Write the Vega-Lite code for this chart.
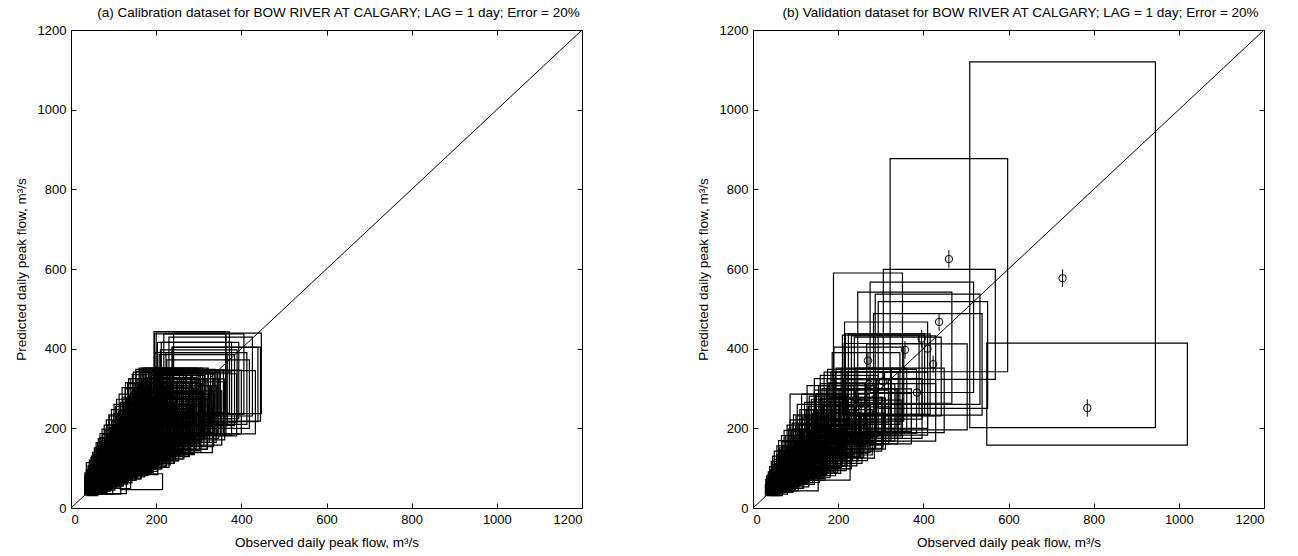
{
"$schema":"https://vega.github.io/schema/vega-lite/v6.json",
"background":"white",
"padding":{"left":13,"top":5,"right":5,"bottom":5},
"config":{"font":"Liberation Sans","view":{"stroke":"black","strokeWidth":1},
"axis":{"grid":false,"domain":false,"tickColor":"black","tickSize":-5,"tickWidth":1,"labelFontSize":13,"labelColor":"black","labelPadding":10,"titleFontSize":13.5,"titleFontWeight":"normal","titleColor":"black","titlePadding":9,"format":"d"},
"title":{"fontSize":13.5,"fontWeight":"normal","color":"black","anchor":"middle","frame":"group","offset":5,"dx":12}},
"spacing":110,
"datasets":{
"diag":[{"v":0},{"v":1200}],
"cal":[
{"o":45,"p":48,"x1":32,"x2":59,"y1":34,"y2":62},{"o":45,"p":60,"x1":32,"x2":59,"y1":42,"y2":78},{"o":46,"p":52,"x1":32,"x2":60,"y1":36,"y2":68},{"o":47,"p":68,"x1":33,"x2":61,"y1":48,"y2":88},{"o":48,"p":46,"x1":34,"x2":62,"y1":32,"y2":60},{"o":49,"p":56,"x1":34,"x2":64,"y1":39,"y2":73},{"o":50,"p":62,"x1":35,"x2":65,"y1":43,"y2":81},{"o":50,"p":50,"x1":35,"x2":65,"y1":35,"y2":65},{"o":51,"p":88,"x1":36,"x2":66,"y1":62,"y2":114},{"o":52,"p":58,"x1":36,"x2":68,"y1":41,"y2":75},{"o":53,"p":66,"x1":37,"x2":69,"y1":46,"y2":86},{"o":54,"p":50,"x1":38,"x2":70,"y1":35,"y2":65},{"o":55,"p":72,"x1":39,"x2":72,"y1":50,"y2":94},{"o":56,"p":60,"x1":39,"x2":73,"y1":42,"y2":78},{"o":57,"p":54,"x1":40,"x2":74,"y1":38,"y2":70},{"o":58,"p":80,"x1":41,"x2":75,"y1":56,"y2":104},{"o":59,"p":64,"x1":41,"x2":77,"y1":45,"y2":83},{"o":60,"p":58,"x1":42,"x2":78,"y1":41,"y2":75},{"o":61,"p":70,"x1":43,"x2":79,"y1":49,"y2":91},{"o":62,"p":92,"x1":43,"x2":81,"y1":64,"y2":120},{"o":63,"p":62,"x1":44,"x2":82,"y1":43,"y2":81},{"o":64,"p":76,"x1":45,"x2":83,"y1":53,"y2":99},{"o":65,"p":56,"x1":46,"x2":85,"y1":39,"y2":73},{"o":66,"p":68,"x1":46,"x2":86,"y1":48,"y2":88},{"o":67,"p":84,"x1":47,"x2":87,"y1":59,"y2":109},{"o":68,"p":64,"x1":48,"x2":88,"y1":45,"y2":83},{"o":69,"p":100,"x1":48,"x2":90,"y1":70,"y2":130},{"o":70,"p":72,"x1":49,"x2":91,"y1":50,"y2":94},
{"o":72,"p":80,"x1":50,"x2":94,"y1":56,"y2":104},{"o":73,"p":66,"x1":51,"x2":95,"y1":46,"y2":86},{"o":74,"p":104,"x1":52,"x2":96,"y1":73,"y2":135},{"o":75,"p":86,"x1":53,"x2":98,"y1":60,"y2":112},{"o":75,"p":50,"x1":53,"x2":98,"y1":35,"y2":65},{"o":76,"p":72,"x1":53,"x2":99,"y1":50,"y2":94},{"o":78,"p":92,"x1":55,"x2":101,"y1":64,"y2":120},{"o":79,"p":112,"x1":55,"x2":103,"y1":78,"y2":146},{"o":80,"p":78,"x1":56,"x2":104,"y1":55,"y2":101},{"o":81,"p":96,"x1":57,"x2":105,"y1":67,"y2":125},{"o":82,"p":70,"x1":57,"x2":107,"y1":49,"y2":91},{"o":84,"p":118,"x1":59,"x2":109,"y1":83,"y2":153},{"o":85,"p":88,"x1":60,"x2":111,"y1":62,"y2":114},{"o":86,"p":100,"x1":60,"x2":112,"y1":70,"y2":130},{"o":88,"p":82,"x1":62,"x2":114,"y1":57,"y2":107},{"o":89,"p":126,"x1":62,"x2":116,"y1":88,"y2":164},{"o":90,"p":94,"x1":63,"x2":117,"y1":66,"y2":122},{"o":90,"p":50,"x1":63,"x2":117,"y1":35,"y2":65},{"o":92,"p":108,"x1":64,"x2":120,"y1":76,"y2":140},{"o":93,"p":84,"x1":65,"x2":121,"y1":59,"y2":109},{"o":94,"p":120,"x1":66,"x2":122,"y1":84,"y2":156},{"o":96,"p":100,"x1":67,"x2":125,"y1":70,"y2":130},{"o":97,"p":136,"x1":68,"x2":126,"y1":95,"y2":177},{"o":98,"p":90,"x1":69,"x2":127,"y1":63,"y2":117},{"o":100,"p":112,"x1":70,"x2":130,"y1":78,"y2":146},{"o":100,"p":52,"x1":70,"x2":130,"y1":36,"y2":68},{"o":101,"p":104,"x1":71,"x2":131,"y1":73,"y2":135},{"o":102,"p":130,"x1":71,"x2":133,"y1":91,"y2":169},{"o":104,"p":96,"x1":73,"x2":135,"y1":67,"y2":125},{"o":105,"p":118,"x1":74,"x2":137,"y1":83,"y2":153},{"o":106,"p":142,"x1":74,"x2":138,"y1":99,"y2":185},{"o":108,"p":100,"x1":76,"x2":140,"y1":70,"y2":130},{"o":108,"p":70,"x1":76,"x2":140,"y1":49,"y2":91},{"o":110,"p":124,"x1":77,"x2":143,"y1":87,"y2":161},
{"o":112,"p":110,"x1":78,"x2":146,"y1":77,"y2":143},{"o":114,"p":150,"x1":80,"x2":148,"y1":105,"y2":195},{"o":115,"p":98,"x1":81,"x2":150,"y1":69,"y2":127},{"o":116,"p":128,"x1":81,"x2":151,"y1":90,"y2":166},{"o":118,"p":140,"x1":83,"x2":153,"y1":98,"y2":182},{"o":120,"p":112,"x1":84,"x2":156,"y1":78,"y2":146},{"o":122,"p":160,"x1":85,"x2":159,"y1":112,"y2":208},{"o":124,"p":118,"x1":87,"x2":161,"y1":83,"y2":153},{"o":125,"p":136,"x1":88,"x2":163,"y1":95,"y2":177},{"o":127,"p":104,"x1":89,"x2":165,"y1":73,"y2":135},{"o":128,"p":178,"x1":90,"x2":166,"y1":125,"y2":231},{"o":130,"p":142,"x1":91,"x2":169,"y1":99,"y2":185},{"o":132,"p":122,"x1":92,"x2":172,"y1":85,"y2":159},{"o":134,"p":156,"x1":94,"x2":174,"y1":109,"y2":203},{"o":135,"p":130,"x1":95,"x2":176,"y1":91,"y2":169},{"o":137,"p":168,"x1":96,"x2":178,"y1":118,"y2":218},{"o":138,"p":116,"x1":97,"x2":179,"y1":81,"y2":151},{"o":140,"p":148,"x1":98,"x2":182,"y1":104,"y2":192},{"o":142,"p":134,"x1":99,"x2":185,"y1":94,"y2":174},{"o":143,"p":182,"x1":100,"x2":186,"y1":127,"y2":237},{"o":145,"p":126,"x1":102,"x2":189,"y1":88,"y2":164},{"o":147,"p":160,"x1":103,"x2":191,"y1":112,"y2":208},{"o":148,"p":144,"x1":104,"x2":192,"y1":101,"y2":187},{"o":150,"p":196,"x1":105,"x2":195,"y1":137,"y2":255},{"o":152,"p":138,"x1":106,"x2":198,"y1":97,"y2":179},{"o":153,"p":170,"x1":107,"x2":199,"y1":119,"y2":221},{"o":155,"p":150,"x1":109,"x2":202,"y1":105,"y2":195},{"o":157,"p":120,"x1":110,"x2":204,"y1":84,"y2":156},{"o":158,"p":186,"x1":111,"x2":205,"y1":130,"y2":242},{"o":160,"p":156,"x1":112,"x2":208,"y1":109,"y2":203},
{"o":162,"p":168,"x1":113,"x2":211,"y1":118,"y2":218},{"o":164,"p":140,"x1":115,"x2":213,"y1":98,"y2":182},{"o":165,"p":66,"x1":116,"x2":215,"y1":46,"y2":86},{"o":166,"p":204,"x1":116,"x2":216,"y1":143,"y2":265},{"o":168,"p":160,"x1":118,"x2":218,"y1":112,"y2":208},{"o":170,"p":180,"x1":119,"x2":221,"y1":126,"y2":234},{"o":172,"p":150,"x1":120,"x2":224,"y1":105,"y2":195},{"o":174,"p":214,"x1":122,"x2":226,"y1":150,"y2":278},{"o":175,"p":172,"x1":123,"x2":228,"y1":120,"y2":224},{"o":177,"p":146,"x1":124,"x2":230,"y1":102,"y2":190},{"o":178,"p":196,"x1":125,"x2":231,"y1":137,"y2":255},{"o":180,"p":166,"x1":126,"x2":234,"y1":116,"y2":216},{"o":182,"p":230,"x1":127,"x2":237,"y1":161,"y2":299},{"o":184,"p":188,"x1":129,"x2":239,"y1":132,"y2":244},{"o":185,"p":160,"x1":130,"x2":241,"y1":112,"y2":208},{"o":187,"p":206,"x1":131,"x2":243,"y1":144,"y2":268},{"o":189,"p":176,"x1":132,"x2":246,"y1":123,"y2":229},{"o":190,"p":240,"x1":133,"x2":247,"y1":168,"y2":312},{"o":192,"p":196,"x1":134,"x2":250,"y1":137,"y2":255},{"o":194,"p":170,"x1":136,"x2":252,"y1":119,"y2":221},{"o":195,"p":218,"x1":137,"x2":254,"y1":153,"y2":283},{"o":197,"p":186,"x1":138,"x2":256,"y1":130,"y2":242},{"o":199,"p":250,"x1":139,"x2":259,"y1":175,"y2":325},{"o":200,"p":200,"x1":140,"x2":260,"y1":140,"y2":260},{"o":202,"p":176,"x1":141,"x2":263,"y1":123,"y2":229},{"o":204,"p":226,"x1":143,"x2":265,"y1":158,"y2":294},{"o":206,"p":190,"x1":144,"x2":268,"y1":133,"y2":247},{"o":208,"p":262,"x1":146,"x2":270,"y1":183,"y2":341},{"o":210,"p":210,"x1":147,"x2":273,"y1":147,"y2":273},{"o":212,"p":186,"x1":148,"x2":276,"y1":130,"y2":242},{"o":214,"p":240,"x1":150,"x2":278,"y1":168,"y2":312},{"o":216,"p":200,"x1":151,"x2":281,"y1":140,"y2":260},{"o":217,"p":268,"x1":152,"x2":282,"y1":188,"y2":348},{"o":219,"p":222,"x1":153,"x2":285,"y1":155,"y2":289},
{"o":222,"p":196,"x1":155,"x2":289,"y1":137,"y2":255},{"o":224,"p":250,"x1":157,"x2":291,"y1":175,"y2":325},{"o":226,"p":210,"x1":158,"x2":294,"y1":147,"y2":273},{"o":228,"p":270,"x1":160,"x2":296,"y1":189,"y2":351},{"o":230,"p":230,"x1":161,"x2":299,"y1":161,"y2":299},{"o":232,"p":206,"x1":162,"x2":302,"y1":144,"y2":268},{"o":234,"p":262,"x1":164,"x2":304,"y1":183,"y2":341},{"o":236,"p":240,"x1":165,"x2":307,"y1":168,"y2":312},{"o":238,"p":270,"x1":167,"x2":309,"y1":189,"y2":351},{"o":240,"p":222,"x1":168,"x2":312,"y1":155,"y2":289},{"o":242,"p":264,"x1":169,"x2":315,"y1":185,"y2":343},{"o":244,"p":248,"x1":171,"x2":317,"y1":174,"y2":322},{"o":246,"p":212,"x1":172,"x2":320,"y1":148,"y2":276},{"o":248,"p":270,"x1":174,"x2":322,"y1":189,"y2":351},{"o":250,"p":236,"x1":175,"x2":325,"y1":165,"y2":307},{"o":252,"p":262,"x1":176,"x2":328,"y1":183,"y2":341},{"o":255,"p":199,"x1":179,"x2":332,"y1":139,"y2":259},{"o":257,"p":250,"x1":180,"x2":334,"y1":175,"y2":325},{"o":260,"p":268,"x1":182,"x2":338,"y1":188,"y2":348},{"o":262,"p":236,"x1":183,"x2":341,"y1":165,"y2":307},{"o":264,"p":266,"x1":185,"x2":343,"y1":186,"y2":346},{"o":267,"p":250,"x1":187,"x2":347,"y1":175,"y2":325},{"o":270,"p":262,"x1":189,"x2":351,"y1":183,"y2":341},{"o":272,"p":226,"x1":190,"x2":354,"y1":158,"y2":294},{"o":275,"p":266,"x1":193,"x2":358,"y1":186,"y2":346},{"o":278,"p":244,"x1":195,"x2":361,"y1":171,"y2":317},{"o":279,"p":341,"x1":195,"x2":363,"y1":239,"y2":443},{"o":280,"p":266,"x1":196,"x2":364,"y1":186,"y2":346},
{"o":282,"p":300,"x1":197,"x2":367,"y1":210,"y2":390},{"o":286,"p":340,"x1":200,"x2":372,"y1":238,"y2":442},{"o":290,"p":262,"x1":203,"x2":377,"y1":183,"y2":341},{"o":295,"p":296,"x1":207,"x2":384,"y1":207,"y2":385},{"o":299,"p":259,"x1":209,"x2":389,"y1":181,"y2":337},{"o":303,"p":320,"x1":212,"x2":394,"y1":224,"y2":416},{"o":308,"p":266,"x1":216,"x2":400,"y1":186,"y2":346},{"o":312,"p":336,"x1":218,"x2":406,"y1":235,"y2":437},{"o":318,"p":300,"x1":223,"x2":413,"y1":210,"y2":390},{"o":322,"p":286,"x1":225,"x2":419,"y1":200,"y2":372},{"o":328,"p":330,"x1":230,"x2":426,"y1":231,"y2":429},{"o":333,"p":265,"x1":233,"x2":433,"y1":186,"y2":345},{"o":338,"p":310,"x1":237,"x2":439,"y1":217,"y2":403},{"o":342,"p":311,"x1":239,"x2":445,"y1":218,"y2":404},{"o":344,"p":338,"x1":241,"x2":447,"y1":237,"y2":439},{"o":280,"p":336,"x1":196,"x2":364,"y1":235,"y2":437},{"o":290,"p":320,"x1":203,"x2":377,"y1":224,"y2":416},{"o":300,"p":305,"x1":210,"x2":390,"y1":214,"y2":397},
{"o":44,"p":54,"x1":35,"x2":53,"y1":43,"y2":65},{"o":47,"p":60,"x1":38,"x2":56,"y1":48,"y2":72},{"o":50,"p":70,"x1":40,"x2":60,"y1":56,"y2":84},{"o":52,"p":48,"x1":42,"x2":62,"y1":38,"y2":58},{"o":55,"p":66,"x1":44,"x2":66,"y1":53,"y2":79},{"o":57,"p":78,"x1":46,"x2":68,"y1":62,"y2":94},{"o":60,"p":90,"x1":48,"x2":72,"y1":72,"y2":108},{"o":62,"p":60,"x1":50,"x2":74,"y1":48,"y2":72},{"o":65,"p":80,"x1":52,"x2":78,"y1":64,"y2":96},{"o":67,"p":104,"x1":54,"x2":80,"y1":83,"y2":125},{"o":70,"p":66,"x1":56,"x2":84,"y1":53,"y2":79},{"o":72,"p":90,"x1":58,"x2":86,"y1":72,"y2":108},{"o":75,"p":112,"x1":60,"x2":90,"y1":90,"y2":134},{"o":77,"p":76,"x1":62,"x2":92,"y1":61,"y2":91},{"o":80,"p":100,"x1":64,"x2":96,"y1":80,"y2":120},{"o":82,"p":124,"x1":66,"x2":98,"y1":99,"y2":149},{"o":85,"p":84,"x1":68,"x2":102,"y1":67,"y2":101},{"o":87,"p":108,"x1":70,"x2":104,"y1":86,"y2":130},{"o":90,"p":136,"x1":72,"x2":108,"y1":109,"y2":163},{"o":92,"p":92,"x1":74,"x2":110,"y1":74,"y2":110},{"o":95,"p":118,"x1":76,"x2":114,"y1":94,"y2":142},{"o":97,"p":146,"x1":78,"x2":116,"y1":117,"y2":175},{"o":100,"p":100,"x1":80,"x2":120,"y1":80,"y2":120},{"o":103,"p":128,"x1":82,"x2":124,"y1":102,"y2":154},{"o":106,"p":156,"x1":85,"x2":127,"y1":125,"y2":187},{"o":109,"p":108,"x1":87,"x2":131,"y1":86,"y2":130},{"o":112,"p":138,"x1":90,"x2":134,"y1":110,"y2":166},{"o":115,"p":168,"x1":92,"x2":138,"y1":134,"y2":202},{"o":118,"p":118,"x1":94,"x2":142,"y1":94,"y2":142},{"o":121,"p":148,"x1":97,"x2":145,"y1":118,"y2":178},{"o":124,"p":180,"x1":99,"x2":149,"y1":144,"y2":216},{"o":127,"p":126,"x1":102,"x2":152,"y1":101,"y2":151},{"o":130,"p":158,"x1":104,"x2":156,"y1":126,"y2":190},{"o":134,"p":192,"x1":107,"x2":161,"y1":154,"y2":230},{"o":137,"p":136,"x1":110,"x2":164,"y1":109,"y2":163},{"o":140,"p":168,"x1":112,"x2":168,"y1":134,"y2":202},{"o":144,"p":204,"x1":115,"x2":173,"y1":163,"y2":245},{"o":147,"p":146,"x1":118,"x2":176,"y1":117,"y2":175},{"o":150,"p":180,"x1":120,"x2":180,"y1":144,"y2":216},{"o":154,"p":218,"x1":123,"x2":185,"y1":174,"y2":262},{"o":157,"p":156,"x1":126,"x2":188,"y1":125,"y2":187},{"o":160,"p":190,"x1":128,"x2":192,"y1":152,"y2":228},{"o":164,"p":230,"x1":131,"x2":197,"y1":184,"y2":276},{"o":167,"p":166,"x1":134,"x2":200,"y1":133,"y2":199},{"o":170,"p":200,"x1":136,"x2":204,"y1":160,"y2":240},{"o":174,"p":240,"x1":139,"x2":209,"y1":192,"y2":288},{"o":177,"p":176,"x1":142,"x2":212,"y1":141,"y2":211},{"o":180,"p":210,"x1":144,"x2":216,"y1":168,"y2":252},{"o":185,"p":250,"x1":148,"x2":222,"y1":200,"y2":300},{"o":188,"p":186,"x1":150,"x2":226,"y1":149,"y2":223},{"o":192,"p":222,"x1":154,"x2":230,"y1":178,"y2":266},{"o":196,"p":260,"x1":157,"x2":235,"y1":208,"y2":312},{"o":200,"p":196,"x1":160,"x2":240,"y1":157,"y2":235},{"o":204,"p":232,"x1":163,"x2":245,"y1":186,"y2":278},{"o":208,"p":270,"x1":166,"x2":250,"y1":216,"y2":324},{"o":212,"p":206,"x1":170,"x2":254,"y1":165,"y2":247},{"o":216,"p":242,"x1":173,"x2":259,"y1":194,"y2":290},{"o":220,"p":280,"x1":176,"x2":264,"y1":224,"y2":336},{"o":225,"p":216,"x1":180,"x2":270,"y1":173,"y2":259},{"o":230,"p":252,"x1":184,"x2":276,"y1":202,"y2":302},{"o":235,"p":285,"x1":188,"x2":282,"y1":228,"y2":342},{"o":240,"p":230,"x1":192,"x2":288,"y1":184,"y2":276},{"o":245,"p":262,"x1":196,"x2":294,"y1":210,"y2":314},{"o":250,"p":288,"x1":200,"x2":300,"y1":230,"y2":346},{"o":256,"p":244,"x1":205,"x2":307,"y1":195,"y2":293},{"o":262,"p":270,"x1":210,"x2":314,"y1":216,"y2":324},{"o":268,"p":288,"x1":214,"x2":322,"y1":230,"y2":346},{"o":275,"p":256,"x1":220,"x2":330,"y1":205,"y2":307},{"o":282,"p":280,"x1":226,"x2":338,"y1":224,"y2":336},{"o":290,"p":288,"x1":232,"x2":348,"y1":230,"y2":346},{"o":300,"p":270,"x1":240,"x2":360,"y1":216,"y2":324},
{"o":60,"p":45,"x1":48,"x2":72,"y1":36,"y2":54},{"o":70,"p":54,"x1":56,"x2":84,"y1":43,"y2":65},{"o":80,"p":57,"x1":64,"x2":96,"y1":46,"y2":68},{"o":90,"p":66,"x1":72,"x2":108,"y1":53,"y2":79},{"o":100,"p":71,"x1":80,"x2":120,"y1":57,"y2":85},{"o":110,"p":82,"x1":88,"x2":132,"y1":66,"y2":98},{"o":120,"p":86,"x1":96,"x2":144,"y1":69,"y2":103},{"o":130,"p":98,"x1":104,"x2":156,"y1":78,"y2":118},{"o":140,"p":102,"x1":112,"x2":168,"y1":82,"y2":122},{"o":150,"p":114,"x1":120,"x2":180,"y1":91,"y2":137},{"o":160,"p":118,"x1":128,"x2":192,"y1":94,"y2":142},{"o":170,"p":132,"x1":136,"x2":204,"y1":106,"y2":158},{"o":180,"p":138,"x1":144,"x2":216,"y1":110,"y2":166},{"o":190,"p":152,"x1":152,"x2":228,"y1":122,"y2":182},{"o":200,"p":157,"x1":160,"x2":240,"y1":126,"y2":188},{"o":210,"p":172,"x1":168,"x2":252,"y1":138,"y2":206},{"o":220,"p":176,"x1":176,"x2":264,"y1":141,"y2":211},{"o":230,"p":193,"x1":184,"x2":276,"y1":154,"y2":232},{"o":240,"p":198,"x1":192,"x2":288,"y1":158,"y2":238},{"o":250,"p":213,"x1":200,"x2":300,"y1":170,"y2":256},{"o":260,"p":217,"x1":208,"x2":312,"y1":174,"y2":260},{"o":270,"p":233,"x1":216,"x2":324,"y1":186,"y2":280},{"o":280,"p":238,"x1":224,"x2":336,"y1":190,"y2":286},
{"o":42,"p":52,"x1":32,"x2":53,"y1":36,"y2":68},{"o":44,"p":66,"x1":33,"x2":55,"y1":46,"y2":86},{"o":46,"p":58,"x1":35,"x2":58,"y1":41,"y2":75},{"o":48,"p":74,"x1":36,"x2":60,"y1":52,"y2":96},{"o":51,"p":62,"x1":38,"x2":64,"y1":43,"y2":81},{"o":53,"p":82,"x1":40,"x2":66,"y1":57,"y2":107},{"o":56,"p":70,"x1":42,"x2":70,"y1":49,"y2":91},{"o":58,"p":90,"x1":44,"x2":73,"y1":63,"y2":117},{"o":61,"p":76,"x1":46,"x2":76,"y1":53,"y2":99},{"o":63,"p":98,"x1":47,"x2":79,"y1":69,"y2":127},{"o":66,"p":84,"x1":50,"x2":83,"y1":59,"y2":109},{"o":68,"p":108,"x1":51,"x2":85,"y1":76,"y2":140},{"o":71,"p":90,"x1":53,"x2":89,"y1":63,"y2":117},{"o":73,"p":116,"x1":55,"x2":91,"y1":81,"y2":151},{"o":76,"p":98,"x1":57,"x2":95,"y1":69,"y2":127},{"o":79,"p":126,"x1":59,"x2":99,"y1":88,"y2":164},{"o":82,"p":104,"x1":62,"x2":103,"y1":73,"y2":135},{"o":85,"p":134,"x1":64,"x2":106,"y1":94,"y2":174},{"o":88,"p":110,"x1":66,"x2":110,"y1":77,"y2":143},{"o":91,"p":144,"x1":68,"x2":114,"y1":101,"y2":187},{"o":94,"p":118,"x1":71,"x2":118,"y1":83,"y2":153},{"o":97,"p":152,"x1":73,"x2":121,"y1":106,"y2":198},{"o":100,"p":126,"x1":75,"x2":125,"y1":88,"y2":164},{"o":104,"p":160,"x1":78,"x2":130,"y1":112,"y2":208},{"o":107,"p":134,"x1":80,"x2":134,"y1":94,"y2":174},{"o":111,"p":170,"x1":83,"x2":139,"y1":119,"y2":221},{"o":114,"p":142,"x1":86,"x2":143,"y1":99,"y2":185},{"o":118,"p":180,"x1":89,"x2":148,"y1":126,"y2":234},{"o":122,"p":150,"x1":92,"x2":153,"y1":105,"y2":195},{"o":126,"p":190,"x1":95,"x2":158,"y1":133,"y2":247},{"o":130,"p":160,"x1":98,"x2":163,"y1":112,"y2":208},{"o":134,"p":200,"x1":101,"x2":168,"y1":140,"y2":260},{"o":138,"p":170,"x1":104,"x2":173,"y1":119,"y2":221},{"o":142,"p":210,"x1":107,"x2":178,"y1":147,"y2":273},{"o":146,"p":178,"x1":110,"x2":183,"y1":125,"y2":231},{"o":151,"p":220,"x1":113,"x2":189,"y1":154,"y2":286},{"o":155,"p":188,"x1":116,"x2":194,"y1":132,"y2":244},{"o":160,"p":232,"x1":120,"x2":200,"y1":162,"y2":302},{"o":165,"p":196,"x1":124,"x2":206,"y1":137,"y2":255},{"o":170,"p":242,"x1":128,"x2":213,"y1":169,"y2":315},{"o":175,"p":206,"x1":131,"x2":219,"y1":144,"y2":268},{"o":180,"p":250,"x1":135,"x2":225,"y1":175,"y2":325},{"o":186,"p":216,"x1":140,"x2":233,"y1":151,"y2":281},{"o":192,"p":258,"x1":144,"x2":240,"y1":181,"y2":335},{"o":198,"p":226,"x1":149,"x2":248,"y1":158,"y2":294},{"o":204,"p":264,"x1":153,"x2":255,"y1":185,"y2":343},{"o":210,"p":236,"x1":158,"x2":263,"y1":165,"y2":307},{"o":216,"p":266,"x1":162,"x2":270,"y1":186,"y2":346},{"o":222,"p":244,"x1":167,"x2":278,"y1":171,"y2":317},{"o":228,"p":266,"x1":171,"x2":285,"y1":186,"y2":346},{"o":235,"p":252,"x1":176,"x2":294,"y1":176,"y2":328},{"o":242,"p":266,"x1":182,"x2":303,"y1":186,"y2":346},{"o":250,"p":256,"x1":188,"x2":313,"y1":179,"y2":333},{"o":258,"p":266,"x1":194,"x2":323,"y1":186,"y2":346},{"o":266,"p":260,"x1":200,"x2":333,"y1":182,"y2":338},{"o":275,"p":266,"x1":206,"x2":344,"y1":186,"y2":346},
{"o":50,"p":44,"x1":38,"x2":63,"y1":31,"y2":57},{"o":58,"p":48,"x1":44,"x2":73,"y1":34,"y2":62},{"o":66,"p":54,"x1":50,"x2":83,"y1":38,"y2":70},{"o":74,"p":60,"x1":56,"x2":93,"y1":42,"y2":78},{"o":82,"p":64,"x1":62,"x2":103,"y1":45,"y2":83},{"o":90,"p":72,"x1":68,"x2":113,"y1":50,"y2":94},{"o":98,"p":78,"x1":74,"x2":123,"y1":55,"y2":101},{"o":106,"p":86,"x1":80,"x2":133,"y1":60,"y2":112},{"o":114,"p":90,"x1":86,"x2":143,"y1":63,"y2":117},{"o":122,"p":98,"x1":92,"x2":153,"y1":69,"y2":127},{"o":130,"p":104,"x1":98,"x2":163,"y1":73,"y2":135},{"o":138,"p":112,"x1":104,"x2":173,"y1":78,"y2":146},{"o":146,"p":118,"x1":110,"x2":183,"y1":83,"y2":153},{"o":154,"p":126,"x1":116,"x2":193,"y1":88,"y2":164},{"o":162,"p":132,"x1":122,"x2":203,"y1":92,"y2":172},{"o":170,"p":140,"x1":128,"x2":213,"y1":98,"y2":182},{"o":178,"p":146,"x1":134,"x2":223,"y1":102,"y2":190},{"o":186,"p":154,"x1":140,"x2":233,"y1":108,"y2":200},{"o":194,"p":160,"x1":146,"x2":243,"y1":112,"y2":208},{"o":202,"p":168,"x1":152,"x2":253,"y1":118,"y2":218},{"o":212,"p":176,"x1":159,"x2":265,"y1":123,"y2":229},{"o":222,"p":184,"x1":167,"x2":278,"y1":129,"y2":239},{"o":232,"p":192,"x1":174,"x2":290,"y1":134,"y2":250},{"o":244,"p":200,"x1":183,"x2":305,"y1":140,"y2":260},{"o":256,"p":210,"x1":192,"x2":320,"y1":147,"y2":273},{"o":268,"p":220,"x1":201,"x2":335,"y1":154,"y2":286},
{"o":60,"p":62,"x1":45,"x2":75,"y1":43,"y2":81},{"o":70,"p":72,"x1":53,"x2":88,"y1":50,"y2":94},{"o":80,"p":82,"x1":60,"x2":100,"y1":57,"y2":107},{"o":90,"p":92,"x1":68,"x2":113,"y1":64,"y2":120},{"o":100,"p":102,"x1":75,"x2":125,"y1":71,"y2":133},{"o":110,"p":112,"x1":83,"x2":138,"y1":78,"y2":146},{"o":120,"p":122,"x1":90,"x2":150,"y1":85,"y2":159},{"o":130,"p":132,"x1":98,"x2":163,"y1":92,"y2":172},{"o":140,"p":142,"x1":105,"x2":175,"y1":99,"y2":185},{"o":150,"p":152,"x1":113,"x2":188,"y1":106,"y2":198},{"o":160,"p":162,"x1":120,"x2":200,"y1":113,"y2":211},{"o":170,"p":172,"x1":128,"x2":213,"y1":120,"y2":224},{"o":180,"p":182,"x1":135,"x2":225,"y1":127,"y2":237},{"o":190,"p":192,"x1":143,"x2":238,"y1":134,"y2":250},{"o":200,"p":202,"x1":150,"x2":250,"y1":141,"y2":263},{"o":210,"p":212,"x1":158,"x2":263,"y1":148,"y2":276},{"o":220,"p":222,"x1":165,"x2":275,"y1":155,"y2":289},{"o":230,"p":232,"x1":173,"x2":288,"y1":162,"y2":302},{"o":240,"p":242,"x1":180,"x2":300,"y1":169,"y2":315},{"o":250,"p":248,"x1":188,"x2":313,"y1":174,"y2":322}
],
"val":[
{"o":42,"p":45,"x1":29,"x2":55,"y1":32,"y2":59},{"o":43,"p":55,"x1":30,"x2":56,"y1":39,"y2":72},{"o":45,"p":50,"x1":32,"x2":59,"y1":35,"y2":65},{"o":46,"p":62,"x1":32,"x2":60,"y1":43,"y2":81},{"o":48,"p":44,"x1":34,"x2":62,"y1":31,"y2":57},{"o":50,"p":58,"x1":35,"x2":65,"y1":41,"y2":75},{"o":51,"p":70,"x1":36,"x2":66,"y1":49,"y2":91},{"o":53,"p":52,"x1":37,"x2":69,"y1":36,"y2":68},{"o":55,"p":64,"x1":39,"x2":72,"y1":45,"y2":83},{"o":56,"p":80,"x1":39,"x2":73,"y1":56,"y2":104},{"o":58,"p":56,"x1":41,"x2":75,"y1":39,"y2":73},{"o":60,"p":68,"x1":42,"x2":78,"y1":48,"y2":88},{"o":62,"p":90,"x1":43,"x2":81,"y1":63,"y2":117},{"o":63,"p":60,"x1":44,"x2":82,"y1":42,"y2":78},{"o":65,"p":74,"x1":46,"x2":85,"y1":52,"y2":96},{"o":66,"p":100,"x1":46,"x2":86,"y1":70,"y2":130},{"o":68,"p":64,"x1":48,"x2":88,"y1":45,"y2":83},{"o":70,"p":80,"x1":49,"x2":91,"y1":56,"y2":104},{"o":72,"p":110,"x1":50,"x2":94,"y1":77,"y2":143},{"o":73,"p":70,"x1":51,"x2":95,"y1":49,"y2":91},{"o":75,"p":86,"x1":53,"x2":98,"y1":60,"y2":112},{"o":77,"p":66,"x1":54,"x2":100,"y1":46,"y2":86},{"o":78,"p":96,"x1":55,"x2":101,"y1":67,"y2":125},{"o":80,"p":120,"x1":56,"x2":104,"y1":84,"y2":156},{"o":82,"p":76,"x1":57,"x2":107,"y1":53,"y2":99},{"o":84,"p":92,"x1":59,"x2":109,"y1":64,"y2":120},{"o":86,"p":130,"x1":60,"x2":112,"y1":91,"y2":169},{"o":87,"p":82,"x1":61,"x2":113,"y1":57,"y2":107},{"o":89,"p":100,"x1":62,"x2":116,"y1":70,"y2":130},{"o":90,"p":70,"x1":63,"x2":117,"y1":49,"y2":91},{"o":92,"p":112,"x1":64,"x2":120,"y1":78,"y2":146},{"o":94,"p":90,"x1":66,"x2":122,"y1":63,"y2":117},{"o":95,"p":140,"x1":67,"x2":124,"y1":98,"y2":182},{"o":97,"p":104,"x1":68,"x2":126,"y1":73,"y2":135},{"o":99,"p":84,"x1":69,"x2":129,"y1":59,"y2":109},{"o":100,"p":120,"x1":70,"x2":130,"y1":84,"y2":156},{"o":102,"p":96,"x1":71,"x2":133,"y1":67,"y2":125},{"o":104,"p":150,"x1":73,"x2":135,"y1":105,"y2":195},{"o":106,"p":110,"x1":74,"x2":138,"y1":77,"y2":143},{"o":108,"p":90,"x1":76,"x2":140,"y1":63,"y2":117},{"o":110,"p":128,"x1":77,"x2":143,"y1":90,"y2":166},{"o":112,"p":104,"x1":78,"x2":146,"y1":73,"y2":135},{"o":114,"p":160,"x1":80,"x2":148,"y1":112,"y2":208},{"o":116,"p":120,"x1":81,"x2":151,"y1":84,"y2":156},{"o":118,"p":98,"x1":83,"x2":153,"y1":69,"y2":127},{"o":118,"p":62,"x1":83,"x2":153,"y1":43,"y2":81},{"o":120,"p":140,"x1":84,"x2":156,"y1":98,"y2":182},{"o":122,"p":112,"x1":85,"x2":159,"y1":78,"y2":146},{"o":124,"p":170,"x1":87,"x2":161,"y1":119,"y2":221},{"o":124,"p":220,"x1":87,"x2":161,"y1":154,"y2":286},{"o":126,"p":130,"x1":88,"x2":164,"y1":91,"y2":169},{"o":128,"p":106,"x1":90,"x2":166,"y1":74,"y2":138},{"o":130,"p":150,"x1":91,"x2":169,"y1":105,"y2":195},{"o":133,"p":120,"x1":93,"x2":173,"y1":84,"y2":156},{"o":136,"p":180,"x1":95,"x2":177,"y1":126,"y2":234},{"o":138,"p":140,"x1":97,"x2":179,"y1":98,"y2":182},{"o":140,"p":116,"x1":98,"x2":182,"y1":81,"y2":151},{"o":143,"p":160,"x1":100,"x2":186,"y1":112,"y2":208},{"o":146,"p":130,"x1":102,"x2":190,"y1":91,"y2":169},{"o":148,"p":200,"x1":104,"x2":192,"y1":140,"y2":260},{"o":150,"p":150,"x1":105,"x2":195,"y1":105,"y2":195},{"o":153,"p":126,"x1":107,"x2":199,"y1":88,"y2":164},{"o":156,"p":172,"x1":109,"x2":203,"y1":120,"y2":224},{"o":160,"p":146,"x1":112,"x2":208,"y1":102,"y2":190},{"o":163,"p":220,"x1":114,"x2":212,"y1":154,"y2":286},{"o":166,"p":170,"x1":116,"x2":216,"y1":119,"y2":221},{"o":170,"p":150,"x1":119,"x2":221,"y1":105,"y2":195},{"o":174,"p":190,"x1":122,"x2":226,"y1":133,"y2":247},{"o":175,"p":100,"x1":123,"x2":228,"y1":70,"y2":130},{"o":178,"p":160,"x1":125,"x2":231,"y1":112,"y2":208},{"o":178,"p":140,"x1":125,"x2":231,"y1":98,"y2":182},{"o":182,"p":236,"x1":127,"x2":237,"y1":165,"y2":307},{"o":186,"p":196,"x1":130,"x2":242,"y1":137,"y2":255},{"o":190,"p":170,"x1":133,"x2":247,"y1":119,"y2":221},{"o":195,"p":210,"x1":137,"x2":254,"y1":147,"y2":273},{"o":200,"p":182,"x1":140,"x2":260,"y1":127,"y2":237},{"o":205,"p":250,"x1":144,"x2":267,"y1":175,"y2":325},{"o":210,"p":220,"x1":147,"x2":273,"y1":154,"y2":286},{"o":215,"p":190,"x1":151,"x2":280,"y1":133,"y2":247},{"o":220,"p":236,"x1":154,"x2":286,"y1":165,"y2":307},{"o":226,"p":256,"x1":158,"x2":294,"y1":179,"y2":333},{"o":232,"p":204,"x1":162,"x2":302,"y1":143,"y2":265},{"o":238,"p":262,"x1":167,"x2":309,"y1":183,"y2":341},{"o":239,"p":212,"x1":167,"x2":311,"y1":148,"y2":276},{"o":245,"p":228,"x1":172,"x2":319,"y1":160,"y2":296},{"o":250,"p":268,"x1":175,"x2":325,"y1":188,"y2":348},{"o":256,"p":240,"x1":179,"x2":333,"y1":168,"y2":312},{"o":262,"p":262,"x1":183,"x2":341,"y1":183,"y2":341},{"o":270,"p":250,"x1":189,"x2":351,"y1":175,"y2":325},{"o":278,"p":270,"x1":195,"x2":361,"y1":189,"y2":351},{"o":286,"p":230,"x1":200,"x2":372,"y1":161,"y2":299},{"o":295,"p":268,"x1":207,"x2":384,"y1":188,"y2":348},{"o":305,"p":250,"x1":214,"x2":397,"y1":175,"y2":325},{"o":315,"p":262,"x1":221,"x2":410,"y1":183,"y2":341},{"o":330,"p":240,"x1":231,"x2":429,"y1":168,"y2":312},{"o":345,"p":270,"x1":242,"x2":449,"y1":189,"y2":351},{"o":265,"p":300,"x1":186,"x2":345,"y1":210,"y2":390},
{"o":45,"p":56,"x1":36,"x2":54,"y1":45,"y2":67},{"o":50,"p":64,"x1":40,"x2":60,"y1":51,"y2":77},{"o":55,"p":50,"x1":44,"x2":66,"y1":40,"y2":60},{"o":60,"p":76,"x1":48,"x2":72,"y1":61,"y2":91},{"o":65,"p":60,"x1":52,"x2":78,"y1":48,"y2":72},{"o":70,"p":92,"x1":56,"x2":84,"y1":74,"y2":110},{"o":75,"p":72,"x1":60,"x2":90,"y1":58,"y2":86},{"o":80,"p":104,"x1":64,"x2":96,"y1":83,"y2":125},{"o":85,"p":82,"x1":68,"x2":102,"y1":66,"y2":98},{"o":90,"p":116,"x1":72,"x2":108,"y1":93,"y2":139},{"o":95,"p":92,"x1":76,"x2":114,"y1":74,"y2":110},{"o":100,"p":132,"x1":80,"x2":120,"y1":106,"y2":158},{"o":105,"p":102,"x1":84,"x2":126,"y1":82,"y2":122},{"o":110,"p":146,"x1":88,"x2":132,"y1":117,"y2":175},{"o":115,"p":112,"x1":92,"x2":138,"y1":90,"y2":134},{"o":120,"p":160,"x1":96,"x2":144,"y1":128,"y2":192},{"o":126,"p":122,"x1":101,"x2":151,"y1":98,"y2":146},{"o":132,"p":176,"x1":106,"x2":158,"y1":141,"y2":211},{"o":138,"p":134,"x1":110,"x2":166,"y1":107,"y2":161},{"o":144,"p":190,"x1":115,"x2":173,"y1":152,"y2":228},{"o":150,"p":146,"x1":120,"x2":180,"y1":117,"y2":175},{"o":157,"p":206,"x1":126,"x2":188,"y1":165,"y2":247},{"o":164,"p":158,"x1":131,"x2":197,"y1":126,"y2":190},{"o":171,"p":222,"x1":137,"x2":205,"y1":178,"y2":266},{"o":178,"p":172,"x1":142,"x2":214,"y1":138,"y2":206},{"o":186,"p":238,"x1":149,"x2":223,"y1":190,"y2":286},{"o":194,"p":186,"x1":155,"x2":233,"y1":149,"y2":223},{"o":202,"p":250,"x1":162,"x2":242,"y1":200,"y2":300},{"o":210,"p":200,"x1":168,"x2":252,"y1":160,"y2":240},{"o":220,"p":262,"x1":176,"x2":264,"y1":210,"y2":314},{"o":230,"p":214,"x1":184,"x2":276,"y1":171,"y2":257},{"o":240,"p":270,"x1":192,"x2":288,"y1":216,"y2":324},{"o":252,"p":232,"x1":202,"x2":302,"y1":186,"y2":278},{"o":265,"p":268,"x1":212,"x2":318,"y1":214,"y2":322},{"o":280,"p":250,"x1":224,"x2":336,"y1":200,"y2":300},{"o":60,"p":48,"x1":48,"x2":72,"y1":38,"y2":58},{"o":75,"p":56,"x1":60,"x2":90,"y1":45,"y2":67},{"o":90,"p":66,"x1":72,"x2":108,"y1":53,"y2":79},{"o":105,"p":76,"x1":84,"x2":126,"y1":61,"y2":91},{"o":120,"p":88,"x1":96,"x2":144,"y1":70,"y2":106},{"o":135,"p":98,"x1":108,"x2":162,"y1":78,"y2":118},{"o":150,"p":110,"x1":120,"x2":180,"y1":88,"y2":132},{"o":165,"p":122,"x1":132,"x2":198,"y1":98,"y2":146},{"o":180,"p":134,"x1":144,"x2":216,"y1":107,"y2":161},{"o":195,"p":148,"x1":156,"x2":234,"y1":118,"y2":178},{"o":210,"p":160,"x1":168,"x2":252,"y1":128,"y2":192},{"o":225,"p":172,"x1":180,"x2":270,"y1":138,"y2":206},{"o":240,"p":186,"x1":192,"x2":288,"y1":149,"y2":223},{"o":255,"p":198,"x1":204,"x2":306,"y1":158,"y2":238},{"o":270,"p":212,"x1":216,"x2":324,"y1":170,"y2":254},{"o":290,"p":226,"x1":232,"x2":348,"y1":181,"y2":271},{"o":310,"p":240,"x1":248,"x2":372,"y1":192,"y2":288},
{"o":44,"p":50,"x1":33,"x2":55,"y1":35,"y2":65},{"o":47,"p":64,"x1":35,"x2":59,"y1":45,"y2":83},{"o":50,"p":54,"x1":38,"x2":63,"y1":38,"y2":70},{"o":53,"p":74,"x1":40,"x2":66,"y1":52,"y2":96},{"o":57,"p":60,"x1":43,"x2":71,"y1":42,"y2":78},{"o":60,"p":84,"x1":45,"x2":75,"y1":59,"y2":109},{"o":64,"p":66,"x1":48,"x2":80,"y1":46,"y2":86},{"o":67,"p":94,"x1":50,"x2":84,"y1":66,"y2":122},{"o":71,"p":72,"x1":53,"x2":89,"y1":50,"y2":94},{"o":75,"p":104,"x1":56,"x2":94,"y1":73,"y2":135},{"o":79,"p":80,"x1":59,"x2":99,"y1":56,"y2":104},{"o":83,"p":116,"x1":62,"x2":104,"y1":81,"y2":151},{"o":87,"p":88,"x1":65,"x2":109,"y1":62,"y2":114},{"o":91,"p":128,"x1":68,"x2":114,"y1":90,"y2":166},{"o":96,"p":96,"x1":72,"x2":120,"y1":67,"y2":125},{"o":101,"p":140,"x1":76,"x2":126,"y1":98,"y2":182},{"o":106,"p":104,"x1":80,"x2":133,"y1":73,"y2":135},{"o":111,"p":152,"x1":83,"x2":139,"y1":106,"y2":198},{"o":116,"p":114,"x1":87,"x2":145,"y1":80,"y2":148},{"o":122,"p":164,"x1":92,"x2":153,"y1":115,"y2":213},{"o":128,"p":124,"x1":96,"x2":160,"y1":87,"y2":161},{"o":134,"p":178,"x1":101,"x2":168,"y1":125,"y2":231},{"o":140,"p":134,"x1":105,"x2":175,"y1":94,"y2":174},{"o":147,"p":190,"x1":110,"x2":184,"y1":133,"y2":247},{"o":154,"p":146,"x1":116,"x2":193,"y1":102,"y2":190},{"o":161,"p":204,"x1":121,"x2":201,"y1":143,"y2":265},{"o":168,"p":158,"x1":126,"x2":210,"y1":111,"y2":205},{"o":176,"p":216,"x1":132,"x2":220,"y1":151,"y2":281},{"o":184,"p":170,"x1":138,"x2":230,"y1":119,"y2":221},{"o":192,"p":228,"x1":144,"x2":240,"y1":160,"y2":296},{"o":200,"p":184,"x1":150,"x2":250,"y1":129,"y2":239},{"o":210,"p":240,"x1":158,"x2":263,"y1":168,"y2":312},{"o":220,"p":198,"x1":165,"x2":275,"y1":139,"y2":257},{"o":232,"p":250,"x1":174,"x2":290,"y1":175,"y2":325},{"o":244,"p":214,"x1":183,"x2":305,"y1":150,"y2":278},{"o":258,"p":262,"x1":194,"x2":323,"y1":183,"y2":341},{"o":272,"p":230,"x1":204,"x2":340,"y1":161,"y2":299},
{"o":55,"p":44,"x1":41,"x2":69,"y1":31,"y2":57},{"o":65,"p":50,"x1":49,"x2":81,"y1":35,"y2":65},{"o":75,"p":56,"x1":56,"x2":94,"y1":39,"y2":73},{"o":85,"p":62,"x1":64,"x2":106,"y1":43,"y2":81},{"o":95,"p":70,"x1":71,"x2":119,"y1":49,"y2":91},{"o":105,"p":76,"x1":79,"x2":131,"y1":53,"y2":99},{"o":115,"p":84,"x1":86,"x2":144,"y1":59,"y2":109},{"o":125,"p":92,"x1":94,"x2":156,"y1":64,"y2":120},{"o":135,"p":100,"x1":101,"x2":169,"y1":70,"y2":130},{"o":145,"p":108,"x1":109,"x2":181,"y1":76,"y2":140},{"o":155,"p":116,"x1":116,"x2":194,"y1":81,"y2":151},{"o":165,"p":124,"x1":124,"x2":206,"y1":87,"y2":161},{"o":175,"p":134,"x1":131,"x2":219,"y1":94,"y2":174},{"o":185,"p":142,"x1":139,"x2":231,"y1":99,"y2":185},{"o":195,"p":152,"x1":146,"x2":244,"y1":106,"y2":198},{"o":205,"p":160,"x1":154,"x2":256,"y1":112,"y2":208},{"o":215,"p":170,"x1":161,"x2":269,"y1":119,"y2":221},{"o":228,"p":178,"x1":171,"x2":285,"y1":125,"y2":231},
{"o":70,"p":70,"x1":53,"x2":88,"y1":49,"y2":91},{"o":90,"p":90,"x1":68,"x2":113,"y1":63,"y2":117},{"o":110,"p":110,"x1":83,"x2":138,"y1":77,"y2":143},{"o":130,"p":130,"x1":98,"x2":163,"y1":91,"y2":169},{"o":150,"p":150,"x1":113,"x2":188,"y1":105,"y2":195},{"o":170,"p":170,"x1":128,"x2":213,"y1":119,"y2":221},{"o":190,"p":190,"x1":143,"x2":238,"y1":133,"y2":247},{"o":210,"p":210,"x1":158,"x2":263,"y1":147,"y2":273},{"o":230,"p":230,"x1":173,"x2":288,"y1":161,"y2":299},
{"o":310,"p":336,"x1":217,"x2":403,"y1":235,"y2":437},{"o":320,"p":336,"x1":224,"x2":416,"y1":235,"y2":437},{"o":300,"p":334,"x1":210,"x2":390,"y1":234,"y2":434},{"o":330,"p":332,"x1":231,"x2":429,"y1":232,"y2":432},{"o":340,"p":330,"x1":238,"x2":442,"y1":231,"y2":429},{"o":405,"p":350,"x1":283,"x2":538,"y1":233,"y2":488},{"o":312,"p":330,"x1":215,"x2":410,"y1":200,"y2":467},
{"o":270,"p":370,"x1":189,"x2":351,"y1":260,"y2":590,"el":348,"eh":392},{"o":357,"p":397,"x1":246,"x2":467,"y1":263,"y2":542,"el":375,"eh":419},{"o":396,"p":425,"x1":275,"x2":518,"y1":290,"y2":567,"el":403,"eh":447},{"o":410,"p":400,"x1":287,"x2":533,"y1":260,"y2":537,"el":378,"eh":422},{"o":423,"p":361,"x1":294,"x2":551,"y1":250,"y2":518,"el":339,"eh":383},{"o":437,"p":467,"x1":306,"x2":569,"y1":323,"y2":599,"el":445,"eh":489},{"o":460,"p":625,"x1":322,"x2":598,"y1":342,"y2":877,"el":603,"eh":647},{"o":727,"p":577,"x1":509,"x2":945,"y1":202,"y2":1120,"el":555,"eh":599},{"o":785,"p":251,"x1":549,"x2":1020,"y1":158,"y2":414,"el":229,"eh":273},{"o":385,"p":290,"x1":267,"x2":503,"y1":196,"y2":412,"el":268,"eh":312},{"o":272,"p":311,"x1":190,"x2":354,"y1":218,"y2":404,"el":289,"eh":333},{"o":305,"p":318,"x1":214,"x2":397,"y1":223,"y2":413,"el":296,"eh":340}
]},
"hconcat":[
{"title":"(a) Calibration dataset for BOW RIVER AT CALGARY; LAG  = 1 day; Error = 20%",
"width":511,"height":478,
"layer":[
{"data":{"name":"cal"},"mark":{"type":"rect","filled":false,"color":"#000","strokeWidth":1.2},
"encoding":{"x":{"field":"x1","type":"quantitative","scale":{"domain":[0,1200],"nice":false,"zero":false},"axis":{"title":"Observed daily peak flow, m³/s","values":[0,200,400,600,800,1000,1200]}},"x2":{"field":"x2"},
"y":{"field":"y1","type":"quantitative","scale":{"domain":[0,1200],"nice":false,"zero":false},"axis":{"title":"Predicted daily peak flow, m³/s","values":[0,200,400,600,800,1000,1200]}},"y2":{"field":"y2"}}},
{"data":{"name":"diag"},"mark":{"type":"line","color":"black","strokeWidth":1},
"encoding":{"x":{"field":"v","type":"quantitative","axis":{"orient":"top","labels":false,"title":null,"values":[0,200,400,600,800,1000,1200]}},"y":{"field":"v","type":"quantitative","axis":{"orient":"right","labels":false,"title":null,"values":[0,200,400,600,800,1000,1200]}}}}
],
"resolve":{"axis":{"x":"independent","y":"independent"}}},
{"title":"(b) Validation dataset for BOW RIVER AT CALGARY; LAG  = 1 day; Error = 20%",
"width":511,"height":478,
"layer":[
{"data":{"name":"val"},"mark":{"type":"rect","filled":false,"color":"#000","strokeWidth":1.2},
"encoding":{"x":{"field":"x1","type":"quantitative","scale":{"domain":[0,1200],"nice":false,"zero":false},"axis":{"title":"Observed daily peak flow, m³/s","values":[0,200,400,600,800,1000,1200]}},"x2":{"field":"x2"},
"y":{"field":"y1","type":"quantitative","scale":{"domain":[0,1200],"nice":false,"zero":false},"axis":{"title":"Predicted daily peak flow, m³/s","values":[0,200,400,600,800,1000,1200]}},"y2":{"field":"y2"}}},
{"data":{"name":"val"},"transform":[{"filter":"isValid(datum.el)"}],"mark":{"type":"rule","color":"black","strokeWidth":1},
"encoding":{"x":{"field":"o","type":"quantitative","axis":null},"y":{"field":"el","type":"quantitative","axis":null},"y2":{"field":"eh"}}},
{"data":{"name":"val"},"transform":[{"filter":"isValid(datum.el)"}],"mark":{"type":"point","shape":"circle","filled":false,"color":"black","size":55,"strokeWidth":1,"opacity":1},
"encoding":{"x":{"field":"o","type":"quantitative","axis":null},"y":{"field":"p","type":"quantitative","axis":null}}},
{"data":{"name":"diag"},"mark":{"type":"line","color":"black","strokeWidth":1},
"encoding":{"x":{"field":"v","type":"quantitative","axis":{"orient":"top","labels":false,"title":null,"values":[0,200,400,600,800,1000,1200]}},"y":{"field":"v","type":"quantitative","axis":{"orient":"right","labels":false,"title":null,"values":[0,200,400,600,800,1000,1200]}}}}
],
"resolve":{"axis":{"x":"independent","y":"independent"}}}
]
}
